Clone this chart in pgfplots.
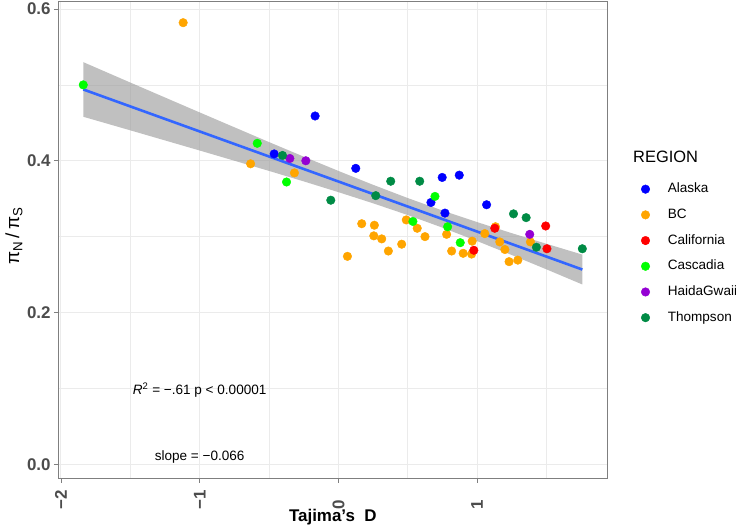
\documentclass[border=0pt]{standalone}
\usepackage{fontspec}
\setmainfont{Liberation Sans}
\usepackage{pgfplots}
\pgfplotsset{compat=1.18}
\definecolor{alaska}{HTML}{0000FF}
\definecolor{bc}{HTML}{FFA500}
\definecolor{calif}{HTML}{FF0000}
\definecolor{casc}{HTML}{00FF00}
\definecolor{haida}{HTML}{9400D3}
\definecolor{thomp}{HTML}{008B45}
\definecolor{smooth}{HTML}{3366FF}
\definecolor{gridc}{HTML}{EBEBEB}
\definecolor{axc}{HTML}{7F7F7F}
\pgfplotsset{pts/.style={only marks, mark=*, mark size=4.3bp, color=#1, mark options={draw=none, fill=#1}}}
\begin{document}
\begin{tikzpicture}
\useasboundingbox (-58.3bp,-49.7bp) rectangle (677.7bp,478.3bp);
\begin{axis}[
  scale only axis, clip=false,
  width=549bp, height=477.3bp,
  xmin=-2.019, xmax=1.938,
  ymin=-0.0186, ymax=0.6106,
  xtick={-2,-1,0,1},
  xticklabels={−2,−1,0,1},
  ytick={0,0.2,0.4,0.6},
  yticklabels={0.0,0.2,0.4,0.6},
  minor xtick={-1.5,-0.5,0.5,1.5},
  minor ytick={0.1,0.3,0.5},
  grid=both,
  major grid style={gridc, line width=0.9bp},
  minor grid style={gridc, line width=0.6bp},
  tick align=outside,
  major tick length=4.5bp,
  minor tick length=0pt,
  tick style={axc, line width=0.8bp},
  axis line style={axc, line width=0.8bp},
  xtick pos=bottom, ytick pos=left,
  ticklabel style={font=\fontsize{17}{20}\selectfont\bfseries, text=black!70},
  xticklabel style={yshift=-27bp, rotate=90, anchor=west, inner sep=0pt},
  yticklabel style={anchor=east, inner sep=0pt, xshift=-3bp},
  xlabel={Tajima's~~D},
  xlabel style={at={(axis description cs:0.5,-0.0817)}, anchor=center, font=\fontsize{17}{20}\selectfont\bfseries},
  ylabel={π\textsubscript{N}\,/\,π\textsubscript{S}},
  ylabel style={at={(axis description cs:-0.0807,0.5076)}, anchor=center, rotate=0, font=\fontsize{19}{22}\selectfont},
  legend style={at={(rel axis cs:1.0614,0.624)}, anchor=north west, draw=none, fill=none,
    font=\fontsize{13.6}{16}\selectfont, row sep=8.7bp, inner sep=0pt,
    nodes={inner sep=2bp, text height=10bp, text depth=3bp},
    /tikz/every odd column/.append style={column sep=16bp}},
  legend cell align=left,
]
% Alaska
\addplot[pts=alaska] coordinates {
(-0.463,0.409) (-0.168,0.459) (0.125,0.390) (0.667,0.345) (0.748,0.378)
(0.768,0.331) (0.871,0.381) (1.068,0.342)};
\addlegendentry{Alaska}
% BC
\addplot[pts=bc] coordinates {
(-1.119,0.582) (-0.633,0.396) (-0.317,0.384) (0.065,0.274) (0.168,0.317)
(0.255,0.301) (0.259,0.315) (0.312,0.297) (0.360,0.281) (0.456,0.290)
(0.489,0.322) (0.568,0.311) (0.624,0.300) (0.780,0.303) (0.816,0.281)
(0.899,0.278) (0.960,0.277) (0.964,0.294) (1.055,0.304) (1.132,0.313)
(1.163,0.293) (1.200,0.283) (1.230,0.267) (1.293,0.269) (1.384,0.293)};
\addlegendentry{BC}
% California
\addplot[pts=calif] coordinates {
(0.976,0.282) (1.127,0.311) (1.494,0.314) (1.503,0.284)};
\addlegendentry{California}
% Cascadia
\addplot[pts=casc] coordinates {
(-1.839,0.500) (-0.585,0.423) (-0.374,0.372) (0.537,0.320) (0.696,0.353)
(0.787,0.313) (0.878,0.292)};
\addlegendentry{Cascadia}
% HaidaGwaii
\addplot[pts=haida] coordinates {
(-0.350,0.403) (-0.235,0.400) (1.379,0.303)};
\addlegendentry{HaidaGwaii}
% Thompson
\addplot[pts=thomp] coordinates {
(-0.403,0.407) (-0.055,0.348) (0.269,0.354) (0.377,0.373) (0.586,0.373)
(1.262,0.330) (1.353,0.325) (1.427,0.286) (1.758,0.284)};
\addlegendentry{Thompson}
% confidence ribbon
\addplot[forget plot, mark=none, sharp plot, draw=none, fill=black!40, fill opacity=0.62] coordinates {
(-1.839,0.530) (-1.5,0.5031) (-1,0.4637) (-0.5,0.4246) (-0.25,0.4054) (0,0.3866)
(0.25,0.3683) (0.5,0.3508) (0.75,0.3344) (1,0.3191) (1.25,0.3045) (1.5,0.2905) (1.758,0.2763)
(1.758,0.2369) (1.5,0.2568) (1.25,0.2757) (1,0.2941) (0.75,0.3118) (0.5,0.3284) (0.25,0.3439)
(0,0.3586) (-0.25,0.3728) (-0.5,0.3866) (-1,0.4135) (-1.5,0.4401) (-1.839,0.458)} -- cycle;
% fitted line
\addplot[forget plot, mark=none, sharp plot, color=smooth, line width=2.6bp] coordinates {
(-1.839,0.4940) (1.758,0.2566)};
\node[font=\fontsize{13.6}{16}\selectfont] at (axis cs:-1,0.0976) {\textit{R}\textsuperscript{2} = −.61 p < 0.00001};
\node[font=\fontsize{13.6}{16}\selectfont] at (axis cs:-1,0.0096) {slope = −0.066};
\node[anchor=west, inner sep=0pt, font=\fontsize{16.5}{19}\selectfont] at (rel axis cs:1.0468,0.6732) {REGION};
\end{axis}
\end{tikzpicture}
\end{document}
